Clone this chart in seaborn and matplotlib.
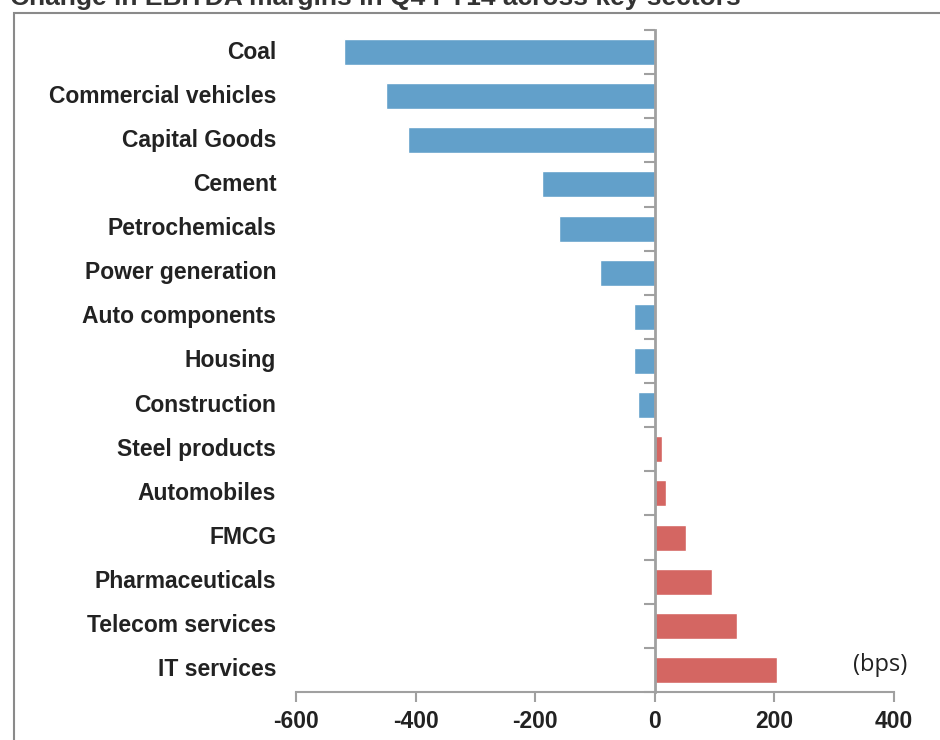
import matplotlib
matplotlib.use("Agg")
import matplotlib.pyplot as plt
import seaborn as sns
import pandas as pd
from matplotlib.patches import Rectangle
from matplotlib.ticker import FixedLocator
import matplotlib.transforms as mtransforms

sectors = ["Coal", "Commercial vehicles", "Capital Goods", "Cement", "Petrochemicals",
           "Power generation", "Auto components", "Housing", "Construction",
           "Steel products", "Automobiles", "FMCG", "Pharmaceuticals",
           "Telecom services", "IT services"]
change_bps = [-520, -450, -412, -188, -160, -92, -35, -35, -28, 12, 18, 53, 95, 137, 205]
x_ticks = [-600, -400, -200, 0, 200, 400]
title = "Change in EBITDA margins in Q4 FY14 across key sectors"
unit_label = "(bps)"

blue = "#62A0CA"
red = "#D46662"
axis_gray = "#A0A0A0"

df = pd.DataFrame({"sector": sectors, "change": change_bps})
df["sign"] = ["neg" if v < 0 else "pos" for v in df["change"]]

sns.set_theme(style="white")
plt.rcParams["font.family"] = ["Liberation Sans", "DejaVu Sans"]

fig = plt.figure(figsize=(9.4, 7.4), dpi=100)
ax = fig.add_axes([296/940, 1-692/740, (894-296)/940, (692-30)/740])

sns.barplot(data=df, x="change", y="sector", hue="sign", order=sectors,
            palette={"neg": blue, "pos": red}, dodge=False, width=0.59,
            saturation=1, legend=False, ax=ax)

ax.set_xlim(-600, 400)
ax.set_ylim(len(sectors) - 0.5, -0.5)
ax.set_xlabel("")
ax.set_ylabel("")

# spines
for s in ["top", "right"]:
    ax.spines[s].set_visible(False)
ax.spines["left"].set_position(("data", 0))
ax.spines["left"].set_color(axis_gray)
ax.spines["left"].set_linewidth(2.0)
ax.spines["left"].set_zorder(5)
ax.spines["bottom"].set_color(axis_gray)
ax.spines["bottom"].set_linewidth(1.5)

# x ticks
ax.set_xticks(x_ticks)
ax.set_xticklabels([str(t) for t in x_ticks], fontsize=16.5, fontweight="bold", color="#222222")
ax.tick_params(axis="x", direction="out", length=7, width=1.5, color=axis_gray, pad=6, bottom=True)

# y ticks: boundaries as minor ticks, no labels on axis
ax.set_yticks([])
ax.yaxis.set_minor_locator(FixedLocator([i - 0.5 for i in range(len(sectors) + 1)]))
ax.tick_params(axis="y", which="minor", direction="out", length=8, width=1.5, color=axis_gray, left=True)

trans = mtransforms.blended_transform_factory(ax.transAxes, ax.transData)
for i, name in enumerate(sectors):
    ax.text(-0.033, i, name, transform=trans, ha="right", va="center",
            fontsize=16.5, fontweight="bold", color="#222222")

ax.text((907-296)/598, (692-665)/662, unit_label, transform=ax.transAxes, ha="right", va="center",
        fontsize=17, color="#222222", family=["Open Sans", "DejaVu Sans"])

# outer frame
fig.patches.append(Rectangle((14/940, -0.05), 1.0, 1 - 13/740 + 0.05, transform=fig.transFigure,
                             fill=False, edgecolor="#8A8A8A", linewidth=1.5))

fig.text(10/940, 1 - 5/740, title, ha="left", va="baseline", fontsize=19,
         fontweight="bold", color="#333333")

fig.savefig("out.png", dpi=100)
